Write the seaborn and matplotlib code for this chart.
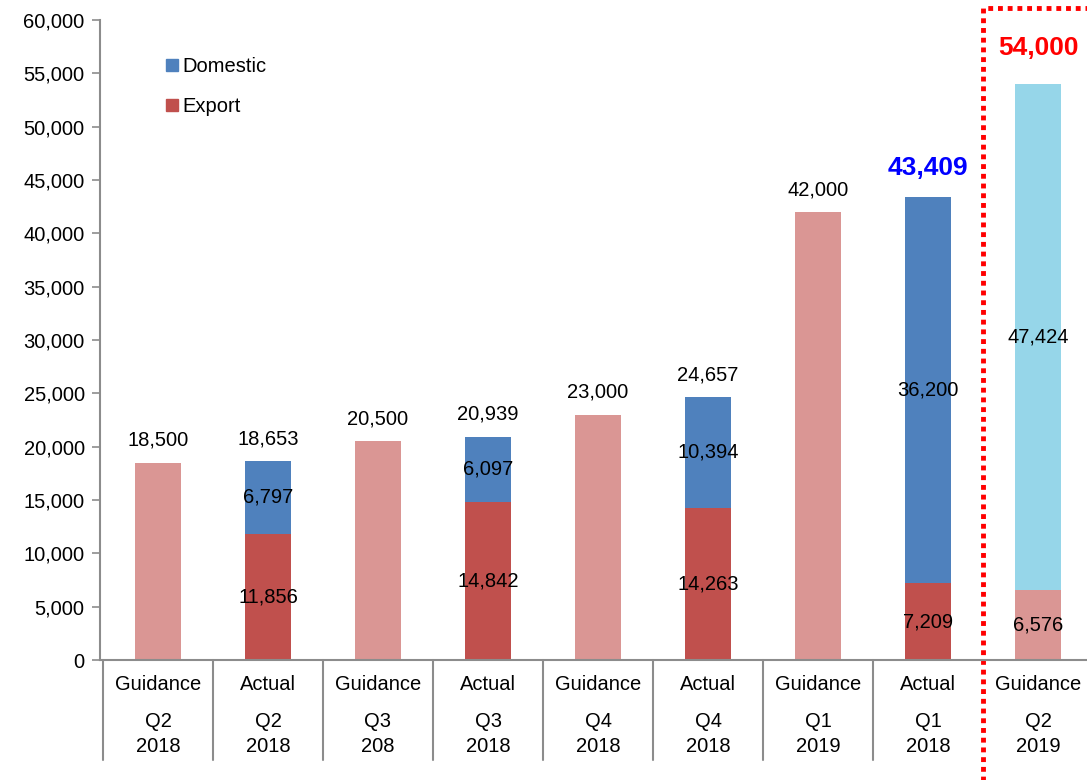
import seaborn as sns
import matplotlib.pyplot as plt
import pandas as pd
from matplotlib.lines import Line2D

sns.set_style("white")
plt.rcParams['font.family'] = ['Liberation Sans', 'DejaVu Sans']
plt.rcParams['font.size'] = 14.5
plt.rcParams['text.color'] = 'black'
plt.rcParams['ytick.color'] = 'black'

# data
kinds = ['Guidance', 'Actual', 'Guidance', 'Actual', 'Guidance', 'Actual', 'Guidance', 'Actual', 'Guidance']
periods = ['Q2\n2018', 'Q2\n2018', 'Q3\n208', 'Q3\n2018', 'Q4\n2018', 'Q4\n2018', 'Q1\n2019', 'Q1\n2018', 'Q2\n2019']
totals = [18500, 18653, 20500, 20939, 23000, 24657, 42000, 43409, 54000]
lower = [0, 11856, 0, 14842, 0, 14263, 0, 7209, 6576]
upper_labels = [None, 6797, None, 6097, None, 10394, None, 36200, 47424]

GUIDE = '#DA9694'
DOM = '#4F81BD'
EXP = '#C0504D'
NEXT = '#96D6E9'

top_colors = [GUIDE, DOM, GUIDE, DOM, GUIDE, DOM, GUIDE, DOM, NEXT]
low_colors = [GUIDE, EXP, GUIDE, EXP, GUIDE, EXP, GUIDE, EXP, GUIDE]

df = pd.DataFrame({'pos': [str(i) for i in range(len(totals))],
                   'total': totals, 'lower': lower})

fig = plt.figure(figsize=(10.87, 7.8), dpi=100)
ax = fig.add_axes([100 / 1087, 1 - 660 / 780, 987 / 1087, 640 / 780])

sns.barplot(data=df, x='pos', y='total', hue='pos', palette=top_colors, legend=False,
            width=0.41, saturation=1, linewidth=0, ax=ax)
sns.barplot(data=df, x='pos', y='lower', hue='pos', palette=low_colors, legend=False,
            width=0.41, saturation=1, linewidth=0, ax=ax)

ax.set_ylim(0, 60000)
ax.set_xlim(-0.527, 8.445)
ax.set_yticks(range(0, 60001, 5000))
ax.set_yticklabels([f'{v:,}' for v in range(0, 60001, 5000)])
ax.set_xticks([])
ax.set_xlabel('')
ax.set_ylabel('')
for s in ['top', 'right']:
    ax.spines[s].set_visible(False)
for s in ['left', 'bottom']:
    ax.spines[s].set_color('#8c8c8c')
    ax.spines[s].set_linewidth(1.5)
ax.tick_params(axis='y', length=6, width=1.2, color='#8c8c8c', labelcolor='black',
               left=True, pad=5, labelsize=14.5)

# category dividers below the axis
for i in range(len(totals) + 1):
    if i == 8:
        continue
    ax.plot([i - 0.5, i - 0.5], [0, -0.156], color='#8c8c8c', lw=1.5,
            transform=ax.get_xaxis_transform(), clip_on=False)

# category labels
xt = ax.get_xaxis_transform()
for i, (k, p) in enumerate(zip(kinds, periods)):
    ax.text(i, -0.039, k, transform=xt, ha='center', va='center')
    ax.text(i, -0.116, p, transform=xt, ha='center', va='center', linespacing=1.4)

# value labels
for i, (t, lo, up) in enumerate(zip(totals, lower, upper_labels)):
    if i == 7:
        ax.annotate(f'{t:,}', (i, t), xytext=(0, 21), textcoords='offset points',
                    ha='center', va='center', fontsize=19, fontweight='bold', color='#0000FF')
    elif i == 8:
        ax.annotate(f'{t:,}', (i, t), xytext=(0, 26), textcoords='offset points',
                    ha='center', va='center', fontsize=19, fontweight='bold', color='#FF0000')
    else:
        ax.annotate(f'{t:,}', (i, t), xytext=(0, 16), textcoords='offset points',
                    ha='center', va='center')
    if lo:
        ax.text(i, lo / 2, f'{lo:,}', ha='center', va='center')
        ax.text(i, lo + (t - lo) / 2, f'{up:,}', ha='center', va='center')

# red dotted frame around the next-quarter guidance
ax.plot([7.5, 7.5, 8.6], [-0.25, 1.019, 1.019], color='#FF0000', lw=3.5,
        linestyle=(0, (1, 1)), dash_capstyle='butt', transform=xt, clip_on=False)

handles = [Line2D([], [], marker='s', color='none', markerfacecolor=DOM, markeredgecolor=DOM,
                  markersize=8, label='Domestic'),
           Line2D([], [], marker='s', color='none', markerfacecolor=EXP, markeredgecolor=EXP,
                  markersize=8, label='Export')]
ax.legend(handles=handles, loc='upper left', bbox_to_anchor=(0.048, 0.97), frameon=False,
          handlelength=0.6, handletextpad=0.25, labelspacing=1.05, fontsize=14.5)

fig.savefig('out.png', dpi=100)
